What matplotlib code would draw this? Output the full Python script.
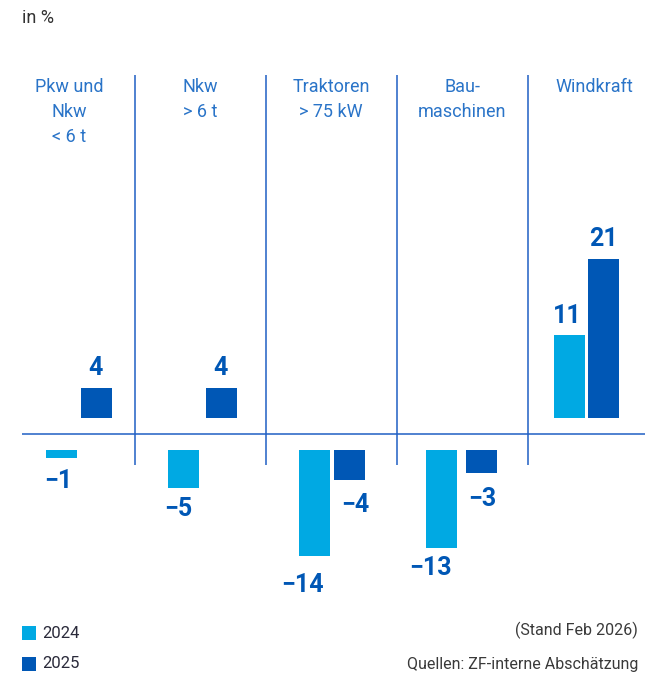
import matplotlib.pyplot as plt

# Data
categories = ["Pkw und\nNkw\n< 6 t", "Nkw\n> 6 t", "Traktoren\n> 75 kW", "Bau-\nmaschinen", "Windkraft"]
years = ["2024", "2025"]
values_2024 = [-1, -5, -14, -13, 11]
values_2025 = [4, 4, -4, -3, 21]

# Colours
light_blue = "#00A9E3"
dark_blue = "#0057B5"
line_blue = "#1F5FC4"
text_blue = "#2A74C8"

plt.rcParams['font.family'] = ['Roboto', 'DejaVu Sans']

# Layout in pixels (figure is 654 x 679 px)
PX = 7.55          # pixels per percent point
ZERO = 434         # pixel row of the zero line
GAP = 16 / PX      # bars start a bit away from the zero line

def yp(p):
    return (ZERO - p) / PX

left_2024 = [46, 168, 299, 426, 554]
left_2025 = [81, 206, 334, 466, 588]
bar_w = 31
# hand placement of the value labels (x centre, gap to bar end in px)
lab_x_2024 = [58, 178.5, 302, 430, 567.5]
lab_x_2025 = [96, 221, 355, 482.5, 603]
lab_gap_2024 = [11, 9, 17, 8, 7]
lab_gap_2025 = [8, 8, 13, 14, 8]
col_centers = [69, 200, 331, 462, 594]
separators = [135, 266, 397, 528]

fig = plt.figure(figsize=(6.54, 6.79), dpi=100)
ax = fig.add_axes([0, 0, 1, 1])
ax.set_xlim(0, 654)
ax.set_ylim(yp(679), yp(0))
ax.axis('off')

# Bars (offset from the zero line)
series = [(left_2024, values_2024, light_blue, lab_x_2024, lab_gap_2024),
          (left_2025, values_2025, dark_blue, lab_x_2025, lab_gap_2025)]
for lefts, vals, col, lab_x, lab_gap in series:
    xs = [l + bar_w / 2 for l in lefts]
    bottoms = [GAP if v > 0 else -GAP for v in vals]
    ax.bar(xs, vals, width=bar_w, bottom=bottoms, color=col, linewidth=0)
    for lx, g, v in zip(lab_x, lab_gap, vals):
        if v > 0:
            ax.text(lx, v + GAP + g / PX, f"{v}", ha='center', va='bottom',
                    fontsize=18, fontweight='bold', color=dark_blue)
        else:
            ax.text(lx, v - GAP - g / PX, f"\u2212{abs(v)}", ha='center', va='top',
                    fontsize=18, fontweight='bold', color=dark_blue)

# Zero line and column separators
ax.hlines(0, 22, 645, color=line_blue, linewidth=1.1)
ax.vlines(separators, yp(465), yp(75), color=line_blue, linewidth=1.1)

# Category labels
for x, c in zip(col_centers, categories):
    ax.text(x, yp(78), c, ha='center', va='top', fontsize=13,
            color=text_blue, linespacing=1.5)

# Unit
ax.text(22, yp(18), "in %", ha='left', va='center', fontsize=13, color="#333333")

# Legend
for ypix, col, yr in [(633, light_blue, years[0]), (664, dark_blue, years[1])]:
    ax.add_patch(plt.Rectangle((22, yp(ypix + 7)), 14, 14 / PX, color=col, linewidth=0))
    ax.text(42, yp(ypix), yr, ha='left', va='center', fontsize=12, color="#2a2a3a")

# Notes
ax.text(638, yp(630), "(Stand Feb 2026)", ha='right', va='center', fontsize=11.5, color="#3a3a3a")
ax.text(638, yp(664), "Quellen: ZF-interne Abschätzung", ha='right', va='center',
        fontsize=11.5, color="#3a3a3a")

plt.savefig("out.png", dpi=100)
